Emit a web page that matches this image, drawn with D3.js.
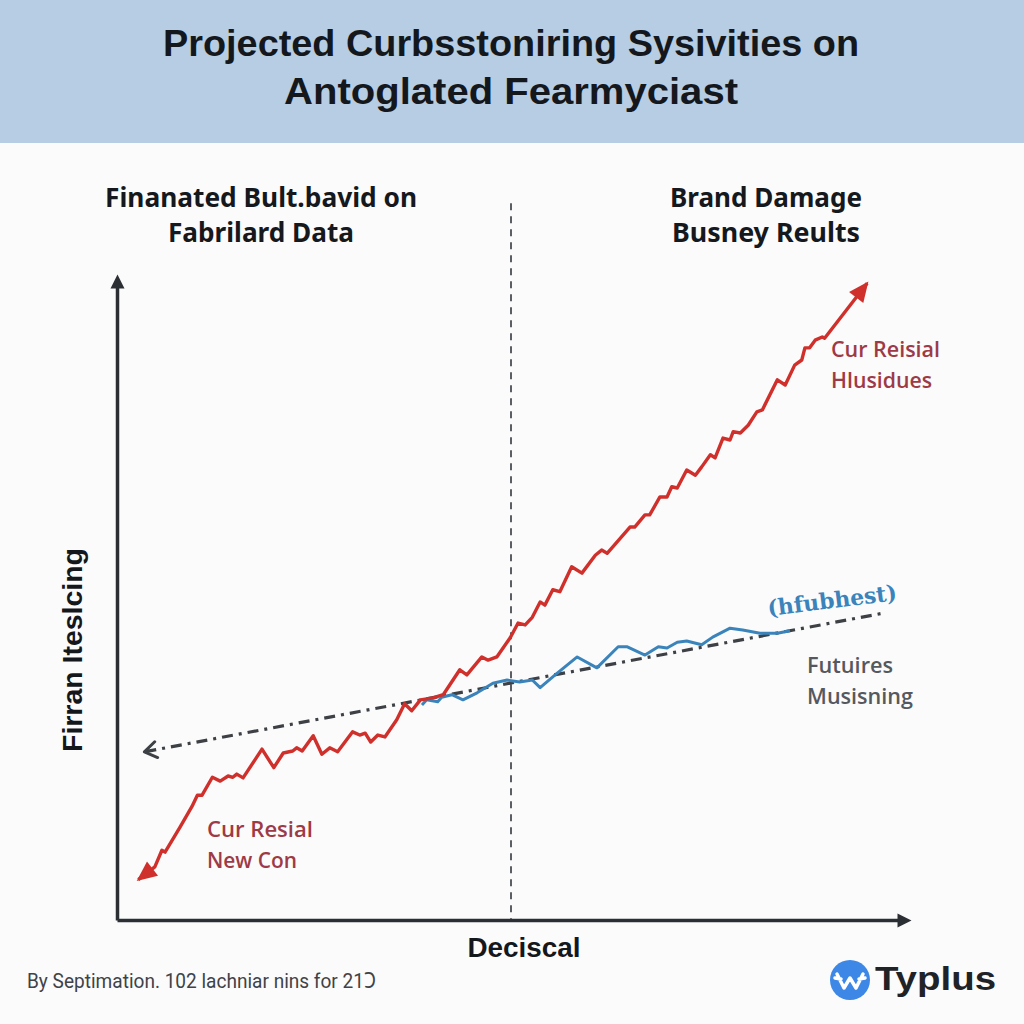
<!DOCTYPE html>
<html>
<head>
<meta charset="utf-8">
<script src="https://cdn.jsdelivr.net/npm/d3@7"></script>
<style>
  html, body { margin: 0; padding: 0; background: #fbfbfb; }
  svg { display: block; }
</style>
</head>
<body>
<div id="graph"></div>
<script>
// chart text
var titleLines = ["Projected Curbsstoniring Sysivities on", "Antoglated Fearmyciast"];
var leftSubtitle = ["Finanated Bult.bavid on", "Fabrilard Data"];
var rightSubtitle = ["Brand Damage", "Busney Reults"];
var xLabel = "Deciscal";
var yLabel = "Firran Iteslcing";
var footer = "By Septimation. 102 lachniar nins for 21\u2183";
var brand = "Typlus";

// red series (period, level)
var redX = [2.7, 4.8, 5.7, 6.1, 8.0, 9.5, 10.2, 10.8, 12.1, 13.1, 14.1, 14.7, 15.2, 16.0, 18.4, 19.9,
  21.1, 22.3, 22.8, 23.5, 24.9, 26.0, 27.0, 28.0, 29.9, 30.8, 31.5, 32.2, 33.1, 34.0, 35.5, 36.5,
  37.4, 38.5, 40.1, 41.4, 43.5, 44.4, 46.3, 47.1, 48.2, 49.9, 50.9, 51.8, 52.7, 53.7, 54.3, 55.3,
  56.2, 57.7, 59.0, 60.7, 61.5, 62.2, 65.1, 65.7, 67.0, 67.6, 68.9, 69.8, 70.4, 71.1, 72.3, 73.4,
  74.2, 75.3, 75.9, 76.9, 77.8, 78.2, 79.1, 80.1, 81.2, 81.9, 83.8, 84.8, 86.0, 86.9, 87.3, 87.9,
  88.6, 89.5, 89.8, 95.2];
var redY = [6.3, 8.3, 10.9, 10.6, 14.5, 17.7, 19.5, 19.5, 22.3, 21.7, 22.5, 22.3, 22.8, 22.2, 26.7, 23.8,
  26.1, 26.4, 26.9, 26.4, 28.8, 25.9, 26.9, 26.3, 29.4, 28.9, 29.2, 27.8, 28.9, 28.6, 31.3, 33.8,
  32.7, 34.4, 34.7, 35.2, 39.1, 38.3, 41.1, 40.6, 41.1, 44.1, 46.4, 46.1, 47.3, 49.7, 49.2, 51.6,
  51.3, 55.2, 54.2, 57.0, 57.8, 57.3, 61.4, 61.4, 63.3, 63.3, 66.1, 66.1, 67.7, 67.5, 70.3, 69.5,
  70.8, 72.7, 72.2, 75.3, 75.0, 76.3, 76.1, 77.3, 79.4, 79.7, 84.4, 83.6, 86.7, 87.5, 89.4, 89.4,
  90.6, 91.1, 90.9, 99.5];

// blue series
var blueX = [38.7, 39.3, 40.7, 41.2, 42.5, 43.9, 45.7, 47.7, 49.5, 51.1, 52.7, 53.7, 55.6, 58.4, 60.9,
  63.6, 64.7, 67.0, 68.7, 69.8, 71.1, 72.3, 74.2, 75.6, 77.8, 79.4, 81.6, 83.8, 85.4];
var blueY = [33.6, 34.4, 34.1, 34.8, 35.2, 34.4, 35.5, 37.0, 37.5, 37.2, 37.5, 36.3, 38.3, 41.1, 39.4,
  42.7, 42.7, 41.4, 42.7, 42.5, 43.4, 43.6, 43.0, 44.2, 45.6, 45.3, 44.8, 44.8, 45.2];

// trend (dash-dot)
var trendX = [3.6, 97.5];
var trendY = [26.3, 48.0];

var dividerX = 50;
var dividerTop = 112;

var width = 1024, height = 1024;
var margins = {top: 280, right: 119, bottom: 104, left: 117};

var svg = d3.select('#graph')
  .append('svg')
  .attr('width', width)
  .attr('height', height)
  .attr('font-family', "'Liberation Sans', Arial, sans-serif");

var defs = svg.append('defs');

function arrowMarker(id, color, len, half, ref, open) {
  var m = defs.append('marker')
    .attr('id', id)
    .attr('markerUnits', 'userSpaceOnUse')
    .attr('viewBox', (-2) + ' ' + (-half - 2) + ' ' + (len + 4) + ' ' + (2 * half + 4))
    .attr('markerWidth', len + 4)
    .attr('markerHeight', 2 * half + 4)
    .attr('refX', ref)
    .attr('refY', 0)
    .attr('orient', 'auto-start-reverse');
  if (open) {
    m.append('path')
      .attr('d', 'M0,' + (-half) + 'L' + len + ',0L0,' + half)
      .attr('fill', 'none')
      .attr('stroke', color)
      .attr('stroke-width', 3)
      .attr('stroke-linecap', 'round')
      .attr('stroke-linejoin', 'round');
  } else {
    m.append('path')
      .attr('d', 'M0,' + (-half) + 'L' + len + ',0L0,' + half + 'Z')
      .attr('fill', color);
  }
}
arrowMarker('axisArrow', '#2b2e33', 14, 7, 8, false);
arrowMarker('redArrow', '#d0302b', 20, 9, 18, false);
arrowMarker('trendArrow', '#3d4045', 12, 8, 11, true);

// banner
svg.append('rect')
  .attr('x', 0).attr('y', 0)
  .attr('width', width).attr('height', 143)
  .attr('fill', '#b6cde3');

svg.selectAll('.title')
  .data(titleLines)
  .enter().append('text')
  .attr('class', 'title')
  .attr('x', 511)
  .attr('y', function(d, i) { return 56 + i * 48; })
  .attr('text-anchor', 'middle')
  .attr('font-size', 37)
  .attr('font-weight', 'bold')
  .attr('fill', '#14181d')
  .attr('textLength', function(d, i) { return i == 0 ? 696 : 454; })
  .attr('lengthAdjust', 'spacingAndGlyphs')
  .text(function(d) { return d; });

var x = d3.scaleLinear()
  .domain([0, 100])
  .range([margins.left, width - margins.right]);

var y = d3.scaleLinear()
  .domain([0, 100])
  .range([height - margins.bottom, margins.top]);

// subtitles
function subtitle(lines, cx, lens) {
  svg.append('g').selectAll('text')
    .data(lines)
    .enter().append('text')
    .attr('x', cx)
    .attr('y', function(d, i) { return 207 + i * 35; })
    .attr('text-anchor', 'middle')
    .attr('font-family', "'Noto Sans', 'Open Sans', sans-serif")
    .attr('font-size', 26)
    .attr('font-weight', 'bold')
    .attr('fill', '#15181c')
    .attr('textLength', function(d, i) { return lens[i]; })
    .attr('lengthAdjust', 'spacingAndGlyphs')
    .text(function(d) { return d; });
}
subtitle(leftSubtitle, 261, [312, 186]);
subtitle(rightSubtitle, 766, [192, 188]);

// divider
svg.append('line')
  .attr('x1', x(dividerX)).attr('x2', x(dividerX))
  .attr('y1', y(dividerTop)).attr('y2', y(0))
  .attr('stroke', '#34373c')
  .attr('stroke-width', 1.6)
  .attr('stroke-dasharray', '7,6');

// axes without ticks
var xAxis = svg.append('g')
  .attr('class', 'x_axis')
  .attr('transform', 'translate(0,' + y(0) + ')')
  .call(d3.axisBottom(x).tickValues([]).tickSizeOuter(0));
xAxis.select('.domain')
  .attr('stroke', '#2b2e33')
  .attr('stroke-width', 3.5)
  .attr('marker-end', 'url(#axisArrow)');

var yAxis = svg.append('g')
  .attr('class', 'y_axis')
  .attr('transform', 'translate(' + x(0) + ',0)')
  .call(d3.axisLeft(y).tickValues([]).tickSizeOuter(0));
yAxis.select('.domain')
  .attr('stroke', '#2b2e33')
  .attr('stroke-width', 3.5)
  .attr('marker-end', 'url(#axisArrow)');

var lineFunc = d3.line()
  .x(function(d) { return x(d[0]); })
  .y(function(d) { return y(d[1]); });

// trend line
svg.append('path')
  .attr('d', lineFunc(d3.zip(trendX, trendY)))
  .attr('fill', 'none')
  .attr('stroke', '#3d4045')
  .attr('stroke-width', 3.2)
  .attr('stroke-dasharray', '11,6,3,6')
  .attr('marker-start', 'url(#trendArrow)');

// blue series
svg.append('path')
  .attr('d', lineFunc(d3.zip(blueX, blueY)))
  .attr('fill', 'none')
  .attr('stroke', '#3a84bb')
  .attr('stroke-width', 3)
  .attr('stroke-linejoin', 'round');

// red series
svg.append('path')
  .attr('d', lineFunc(d3.zip(redX, redY)))
  .attr('fill', 'none')
  .attr('stroke', '#d0302b')
  .attr('stroke-width', 3.4)
  .attr('stroke-linejoin', 'round')
  .attr('marker-start', 'url(#redArrow)')
  .attr('marker-end', 'url(#redArrow)');

// annotations
function note(lines, px, py, color, lens) {
  svg.append('g').selectAll('text')
    .data(lines)
    .enter().append('text')
    .attr('x', px)
    .attr('y', function(d, i) { return py + i * 31; })
    .attr('font-family', "'Open Sans', 'Noto Sans', sans-serif")
    .attr('font-size', 21)
    .attr('font-weight', 600)
    .attr('fill', color)
    .attr('textLength', function(d, i) { return lens[i]; })
    .attr('lengthAdjust', 'spacingAndGlyphs')
    .text(function(d) { return d; });
}
note(["Cur Reisial", "Hlusidues"], 831, 357, '#9e3a46', [109, 101]);
note(["Cur Resial", "New Con"], 207, 837, '#9e3a46', [106, 90]);
note(["Futuires", "Musisning"], 807, 673, '#55595f', [86, 106]);

svg.append('text')
  .attr('transform', 'translate(833,608) rotate(-7)')
  .attr('text-anchor', 'middle')
  .attr('font-family', "'DejaVu Serif', serif")
  .attr('font-size', 22)
  .attr('font-weight', 'bold')
  .attr('fill', '#3a84bb')
  .attr('textLength', 130)
  .attr('lengthAdjust', 'spacingAndGlyphs')
  .text('(hfubhest)');

// axis labels
svg.append('text')
  .attr('x', 524).attr('y', 957)
  .attr('text-anchor', 'middle')
  .attr('font-size', 27)
  .attr('font-weight', 'bold')
  .attr('fill', '#14171b')
  .attr('textLength', 113)
  .attr('lengthAdjust', 'spacingAndGlyphs')
  .text(xLabel);

svg.append('text')
  .attr('transform', 'translate(82,650) rotate(-90)')
  .attr('text-anchor', 'middle')
  .attr('font-size', 27)
  .attr('font-weight', 'bold')
  .attr('fill', '#14171b')
  .attr('textLength', 204)
  .attr('lengthAdjust', 'spacingAndGlyphs')
  .text(yLabel);

// footer
svg.append('text')
  .attr('x', 27).attr('y', 988)
  .attr('font-family', "'Roboto', 'Noto Sans', sans-serif")
  .attr('font-size', 21)
  .attr('fill', '#3f4348')
  .attr('textLength', 349)
  .attr('lengthAdjust', 'spacingAndGlyphs')
  .text(footer);

// brand logo
var logo = svg.append('g').attr('transform', 'translate(850,980)');
logo.append('circle').attr('r', 20).attr('fill', '#3d87e6');
logo.append('path')
  .attr('d', 'M-13,-6 L-6,8 L0,-2 L6,8 L13,-6 M-15,-2 L-9,-1 M15,-2 L9,-1')
  .attr('fill', 'none')
  .attr('stroke', '#fff')
  .attr('stroke-width', 3.5)
  .attr('stroke-linejoin', 'round')
  .attr('stroke-linecap', 'round');

svg.append('text')
  .attr('x', 875).attr('y', 990)
  .attr('font-size', 34)
  .attr('font-weight', 'bold')
  .attr('fill', '#1f2328')
  .attr('textLength', 121)
  .attr('lengthAdjust', 'spacingAndGlyphs')
  .text(brand);
</script>
</body>
</html>
